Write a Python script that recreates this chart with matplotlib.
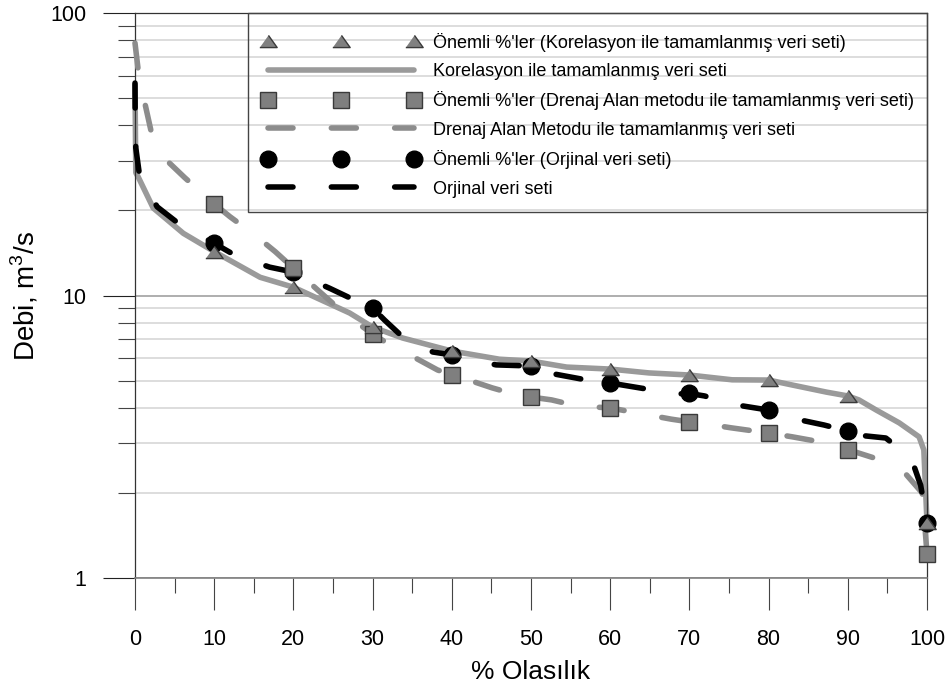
import matplotlib
matplotlib.use("Agg")
import matplotlib.pyplot as plt
from matplotlib import font_manager
from matplotlib.patches import Rectangle
from matplotlib.ticker import LogLocator, FuncFormatter, NullFormatter, MultipleLocator

plt.rcParams['font.family'] = ['Liberation Sans', 'DejaVu Sans']
plt.rcParams['mathtext.fontset'] = 'custom'
plt.rcParams['mathtext.rm'] = 'Liberation Sans'

# Korelasyon ile tamamlanmis veri seti (solid gray)
kor_x = [0, 0.1, 0.4, 2.3, 6.1, 10, 15.8, 20, 27.1, 30, 33.8, 40, 46, 50, 54.5,
         60, 64.9, 70, 75.4, 80, 83, 87.3, 90, 91.4, 93.6, 96.5, 99.0, 99.6, 100]
kor_y = [55.6, 27.2, 26.3, 20.4, 16.6, 14.3, 11.6, 10.7, 8.67, 7.73, 7.07, 6.36, 5.95, 5.86, 5.58,
         5.49, 5.32, 5.23, 5.03, 5.02, 4.82, 4.55, 4.41, 4.27, 3.93, 3.54, 3.16, 2.84, 1.57]

# Drenaj Alan Metodu ile tamamlanmis veri seti (gray dashed)
dre_x = [0, 0.4, 1.3, 2, 4.2, 6.3, 10, 12, 15.1, 17.7, 20, 23, 26.5, 30, 31.8, 34.7,
         38.2, 40, 41.4, 45.1, 48.3, 50, 52.6, 55.9, 60, 63.4, 67.7, 70, 71.2, 75.3,
         80, 83, 86.6, 90, 91, 93.7, 97.4, 99.4, 100]
dre_y = [78.3, 62.9, 47.2, 38.5, 29.7, 26.1, 21.1, 19.0, 16.4, 14.3, 12.5, 10.5, 8.6, 7.31, 6.79, 6.16,
         5.45, 5.23, 5.10, 4.71, 4.44, 4.37, 4.27, 4.06, 4.00, 3.84, 3.65, 3.57, 3.54, 3.40,
         3.26, 3.16, 3.03, 2.84, 2.79, 2.64, 2.32, 2.00, 1.22]

# Orjinal veri seti (black dashed)
org_x = [0, 0.02, 0.1, 0.6, 2.8, 5.7, 10, 12.6, 17, 20, 24.6, 27.7, 30, 31.5, 33.8, 37.6,
         40, 41.4, 45.6, 50, 53, 56.4, 60, 63.9, 68.3, 70, 71.9, 75.9, 80, 83.5, 87,
         90, 91, 94.8, 98, 99.2, 100]
org_y = [56.5, 44.3, 33.3, 26.3, 20.6, 17.8, 15.3, 13.9, 12.6, 12.1, 10.6, 9.64, 9.03, 8.19, 7.13, 6.31,
         6.16, 6.01, 5.68, 5.63, 5.27, 5.06, 4.90, 4.70, 4.48, 4.50, 4.41, 4.10, 3.93, 3.65, 3.48,
         3.31, 3.21, 3.13, 2.66, 2.13, 1.57]

# Onemli yuzdeler
pct = [10, 20, 30, 40, 50, 60, 70, 80, 90, 100]
kor_pts = [14.3, 10.7, 7.74, 6.36, 5.86, 5.49, 5.23, 5.02, 4.41, 1.57]
dre_pts = [21.1, 12.5, 7.31, 5.23, 4.37, 4.00, 3.57, 3.26, 2.84, 1.22]
org_pts = [15.3, 12.1, 9.03, 6.16, 5.63, 4.90, 4.52, 3.93, 3.31, 1.57]

labels = [
    "Önemli %'ler (Korelasyon ile tamamlanmış veri seti)",
    "Korelasyon ile tamamlanmış veri seti",
    "Önemli %'ler (Drenaj Alan metodu ile tamamlanmış veri seti)",
    "Drenaj Alan Metodu ile tamamlanmış veri seti",
    "Önemli %'ler (Orjinal veri seti)",
    "Orjinal veri seti",
]

fig = plt.figure(figsize=(9.48, 6.84), dpi=100)
ax = fig.add_axes([135 / 948, 1 - 578 / 684, 792 / 948, 565 / 684])

lw = 4.0
dash = (4.5, 6.9)
tri = [(-1, -0.7), (1, -0.7), (0, 0.7)]

l_kor, = ax.plot(kor_x, kor_y, color='#9a9a9a', lw=lw, solid_capstyle='round',
                 solid_joinstyle='round', zorder=2, clip_on=False)
l_dre, = ax.plot(dre_x, dre_y, color='#8c8c8c', lw=lw, dashes=dash, dash_capstyle='round',
                 zorder=3, clip_on=False)
l_org, = ax.plot(org_x, org_y, color='black', lw=lw, dashes=dash, dash_capstyle='round',
                 zorder=4, clip_on=False)

m_org, = ax.plot(pct, org_pts, 'o', ms=12, color='black', mec='black', zorder=5, clip_on=False)
m_dre, = ax.plot(pct, dre_pts, 's', ms=11.5, color='#7f7f7f', mec='#3a3a3a', mew=1,
                 zorder=6, clip_on=False)
m_kor, = ax.plot(pct, kor_pts, marker=tri, ls='none', ms=12.5, color='#808080', mec='#3a3a3a',
                 mew=1, zorder=7, clip_on=False)

ax.set_xlim(0, 100)
ax.set_yscale('log')
ax.set_ylim(1, 100)

ax.xaxis.set_major_locator(MultipleLocator(10))
ax.xaxis.set_minor_locator(MultipleLocator(5))
ax.yaxis.set_major_locator(LogLocator(base=10))
ax.yaxis.set_minor_locator(LogLocator(base=10, subs=range(2, 10)))
ax.yaxis.set_major_formatter(FuncFormatter(lambda v, p: f'{v:g}'))
ax.yaxis.set_minor_formatter(NullFormatter())

ax.set_axisbelow(True)
ax.yaxis.grid(True, which='minor', color='#dadada', lw=1.3)
ax.yaxis.grid(True, which='major', color='#a8a8a8', lw=1.3)

ax.tick_params(axis='x', which='major', direction='out', length=23, width=0.8, color='#444',
               labelsize=15.5, pad=14)
ax.tick_params(axis='x', which='minor', direction='out', length=11, width=0.8, color='#444')
ax.tick_params(axis='y', which='major', direction='out', length=23, width=0.8, color='#222',
               labelsize=15.5, pad=12)
ax.tick_params(axis='y', which='minor', direction='out', length=12, width=0.8, color='#444')

for side in ['left', 'top', 'right']:
    ax.spines[side].set_color('#333333')
    ax.spines[side].set_linewidth(0.9)
ax.spines['bottom'].set_color('#808080')
ax.spines['bottom'].set_linewidth(1.2)

ax.set_xlabel('% Olasılık', fontsize=19, labelpad=7)
ax.set_ylabel('Debi, m$^3$/s', fontsize=20, labelpad=7)

# legend frame drawn separately so it meets the top and right spines
x0 = (248 - 135) / 792
y0 = (578 - 212) / 565
ax.add_patch(Rectangle((x0, y0), 1 - x0, 1 - y0, transform=ax.transAxes, fill=False,
                       ec='#444444', lw=1.0, zorder=8, clip_on=False))

# the legend text in the reference is condensed; use the narrow face when present
names = {f.name for f in font_manager.fontManager.ttflist}
if 'Liberation Sans Narrow' in names:
    leg_font = {'family': 'Liberation Sans Narrow', 'size': 15.5}
    leg_opts = dict(borderpad=0.63, handlelength=7.4, handletextpad=0.58, labelspacing=0.2)
    top_off = 4
else:
    leg_font = {'family': 'Liberation Sans', 'size': 13}
    leg_opts = dict(borderpad=0.81, handlelength=8.68, handletextpad=0.78, labelspacing=0.63)
    top_off = 5

handles = [m_kor, l_kor, m_dre, l_dre, m_org, l_org]
ax.legend(handles, labels, loc='upper left', bbox_to_anchor=(x0, 1 - top_off / 565),
          borderaxespad=0, frameon=False, numpoints=3, prop=leg_font, **leg_opts)

fig.savefig('out.png', dpi=100)
